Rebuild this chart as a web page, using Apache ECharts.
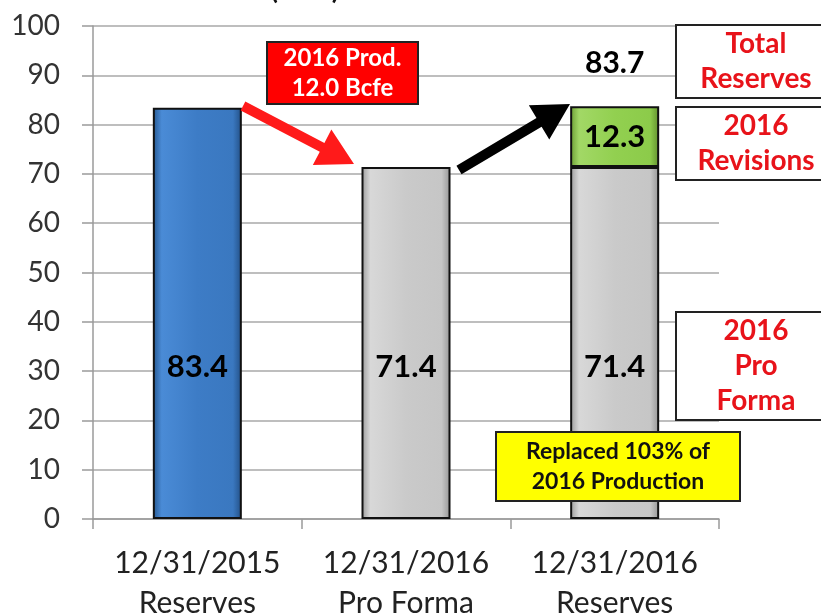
<!DOCTYPE html>
<html>
<head>
<meta charset="utf-8">
<script src="https://cdn.jsdelivr.net/npm/echarts@6/dist/echarts.min.js"></script>
<style>
  html, body { margin: 0; padding: 0; background: #fff; }
  #chart { width: 821px; height: 615px; }
</style>
</head>
<body>
<div id="chart"></div>
<script>
// data
const categories = ["12/31/2015\nReserves", "12/31/2016\nPro Forma", "12/31/2016\nReserves"];
const baseValues = [83.4, 71.4, 71.4];
const revisionValues = ["-", "-", 12.3];
const totalValues = ["-", "-", 83.7];
const yTicks = [0, 100, 10]; // min, max, interval

const FONT = "Lato, 'Open Sans', sans-serif";

function vGrad(stops) {
  return new echarts.graphic.LinearGradient(0, 0, 1, 0,
    stops.map((c, i) => ({ offset: [0, 0.1, 0.5, 0.9, 1][i], color: c })));
}
const blueFill = vGrad(["#25578f", "#4a8bd6", "#3d7cc6", "#3a78c0", "#224f85"]);
const grayFill = vGrad(["#9a9a9a", "#d8d8d8", "#cacaca", "#c6c6c6", "#959595"]);
const greenFill = vGrad(["#6a9c33", "#a2d866", "#92d050", "#8ccb4a", "#618f2e"]);
const baseFills = [blueFill, grayFill, grayFill];

// arrow polygon from (x1,y1) to tip (x2,y2)
function arrow(x1, y1, x2, y2, shaft, headW, headL, color) {
  const dx = x2 - x1, dy = y2 - y1, len = Math.hypot(dx, dy);
  const ux = dx / len, uy = dy / len, nx = -uy, ny = ux;
  const bx = x2 - ux * headL, by = y2 - uy * headL;
  const s = shaft / 2, h = headW / 2;
  return {
    type: "polygon",
    shape: { points: [
      [x1 + nx * s, y1 + ny * s], [bx + nx * s, by + ny * s], [bx + nx * h, by + ny * h],
      [x2, y2], [bx - nx * h, by - ny * h], [bx - nx * s, by - ny * s], [x1 - nx * s, y1 - ny * s]
    ] },
    style: { fill: color },
    z: 100
  };
}

function box(x, y, w, h, fill, text, color, fontSize, lineHeight) {
  return [
    { type: "rect", z: 100, shape: { x: x, y: y, width: w, height: h },
      style: { fill: fill, stroke: "#222", lineWidth: 2 } },
    { type: "text", z: 101, x: x + w / 2, y: y + h / 2,
      style: { text: text, fill: color, font: "bold " + fontSize + "px " + FONT,
        align: "center", verticalAlign: "middle", lineHeight: lineHeight } }
  ];
}

const chart = echarts.init(document.getElementById("chart"));
chart.setOption({
  animation: false,
  grid: { left: 93, right: 102, top: 26, bottom: 96, outerBoundsMode: "none" },
  xAxis: {
    type: "category",
    data: categories,
    axisLine: { lineStyle: { color: "#9a9a9a", width: 1.5 } },
    axisTick: { show: true, length: 10, lineStyle: { color: "#9a9a9a", width: 1.5 } },
    axisLabel: { fontFamily: FONT, fontSize: 30, lineHeight: 40, color: "#222", margin: 24, interval: 0 }
  },
  yAxis: {
    type: "value",
    min: yTicks[0], max: yTicks[1], interval: yTicks[2],
    axisLine: { show: true, lineStyle: { color: "#9a9a9a", width: 1.5 } },
    axisTick: { show: true, length: 11, lineStyle: { color: "#9a9a9a", width: 1.5 } },
    splitLine: { lineStyle: { color: "#a8a8a8", width: 1.5 } },
    axisLabel: { fontFamily: FONT, fontSize: 28, color: "#333", margin: 33 }
  },
  series: [
    {
      name: "base",
      type: "bar",
      stack: "r",
      barWidth: 89,
      data: baseValues.map((v, i) => ({ value: v, itemStyle: { color: baseFills[i] } })),
      itemStyle: { borderColor: "#111", borderWidth: 2 },
      label: { show: true, position: "insideBottom", distance: 137, color: "#000",
        fontFamily: FONT, fontWeight: "bold", fontSize: 31 }
    },
    {
      name: "revisions",
      type: "bar",
      stack: "r",
      barWidth: 89,
      data: revisionValues,
      itemStyle: { color: greenFill, borderColor: "#111", borderWidth: 2 },
      label: { show: true, position: "inside", color: "#000",
        fontFamily: FONT, fontWeight: "bold", fontSize: 31 }
    },
    {
      name: "total",
      type: "bar",
      stack: "r",
      barWidth: 89,
      data: totalValues.map(v => (v === "-" ? "-" : 0)),
      itemStyle: { color: "transparent" },
      label: { show: true, position: "top", distance: 28, color: "#000",
        fontFamily: FONT, fontWeight: "bold", fontSize: 30,
        formatter: p => totalValues[p.dataIndex] }
    }
  ],
  graphic: [
    { type: "text", left: 0, top: -23, z: 100,
      style: { text: "Total Proved Reserves (Bcfe)", font: "bold 27px " + FONT, fill: "#111" } },
    ...box(267, 42, 151, 62, "#ff0000", "2016 Prod.\n12.0 Bcfe", "#fff", 24, 30),
    arrow(243, 106, 354, 164, 10, 40, 36, "#ff1a1a"),
    arrow(459, 170, 570, 104, 10, 40, 36, "#000"),
    ...box(676, 25, 160, 73, "#fff", "Total\nReserves", "#e8131a", 28, 35),
    ...box(676, 107, 160, 73, "#fff", "2016\nRevisions", "#e8131a", 28, 35),
    ...box(676, 312, 160, 108, "#fff", "2016\nPro\nForma", "#e8131a", 28, 35),
    ...box(496, 432, 244, 69, "#ffff00", "Replaced 103% of\n2016 Production", "#111", 23, 30)
  ]
});
</script>
</body>
</html>
